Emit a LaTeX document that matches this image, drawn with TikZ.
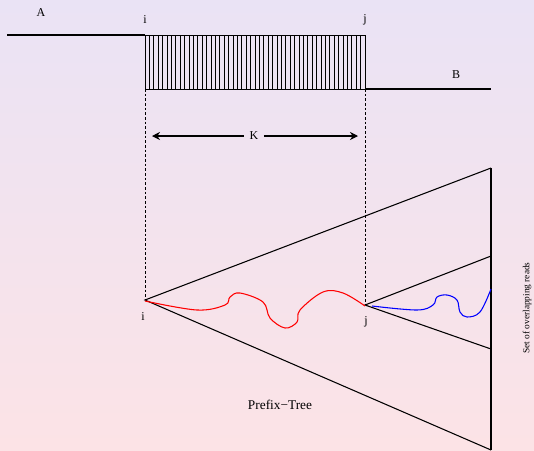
\documentclass[tikz,border=0pt]{standalone}
\usepackage{fontspec}
\setmainfont{Liberation Serif}
\usepackage{tikz}
\usepackage{xcolor}
\usetikzlibrary{arrows.meta,calc}

\definecolor{bgtop}{HTML}{EAE3F5}
\definecolor{bgbot}{HTML}{FCE3E6}

\tikzset{
    lbl/.style={inner sep=1pt, font=\fontsize{9}{10}\selectfont},
    guide/.style={densely dashed, dash pattern=on 2pt off 1.5pt, thin},
    edge/.style={thick},
}

\begin{document}
\begin{tikzpicture}[x=0.75pt, y=-0.75pt]
    % background
    \shade[top color=bgtop, bottom color=bgbot] (0,0) rectangle (534,450);
    \useasboundingbox (0,0) rectangle (534,450);

    % reads A and B with the overlap block
    \coordinate (a0) at (7,35);
    \coordinate (ri) at (145,35);
    \coordinate (rj) at (365,89);
    \coordinate (b1) at (491,89);
    \draw[edge] (a0) -- (ri);
    \draw[edge] (rj) -- (b1);
    \draw[semithick] (ri) rectangle (rj);
    \foreach \k in {1,...,49}
        \draw[semithick] ($(ri)+(4.4*\k,0)$) -- ($(ri)+(4.4*\k,54)$);
    \node[lbl, font=\small] (A) at (41,13) {A};
    \node[lbl, font=\small] (B) at (456,75) {B};
    \node[lbl] (ti) at (145,20) {i};
    \node[lbl] (tj) at (365,20) {j};

    % K span
    \coordinate (kl) at (152,136);
    \coordinate (kr) at (358,136);
    \node[lbl, font=\small, inner sep=4pt] (K) at (254,136) {K};
    \draw[thick, {Stealth[length=6pt,width=6pt]}-] (kl) -- (K.west);
    \draw[thick, -{Stealth[length=6pt,width=6pt]}] (K.east) -- (kr);

    % prefix tree
    \coordinate (pi) at (145,300);
    \coordinate (pj) at (365,305);
    \coordinate (t1) at (491,168);
    \coordinate (t2) at (491,450);
    \coordinate (s1) at (491,256);
    \coordinate (s2) at (491,349);
    \draw[guide] ($(ri)+(0,54)$) -- (pi);
    \draw[guide] (rj) -- (pj);
    \draw[edge] (t1) -- (pi) -- (t2);
    \draw[edge] (t1) -- (t2);
    \draw[edge] (s1) -- (pj) -- (s2);
    \node[lbl] (bi) at (143,317) {i};
    \node[lbl] (bj) at (366,322) {j};

    % paths through the trees
    \draw[red, thick] plot[smooth, tension=0.6] coordinates {(145,301) (197,310) (225,305) (230,297) (240,293) (263,302) (270,318) (285,328) (297,322) (300,310) (323,292) (343,293) (365,306)};
    \draw[blue, thick] plot[smooth, tension=0.6] coordinates {(372,306) (417,310) (433,305) (437,297) (447,295) (457,300) (460,312) (467,317) (480,312) (491,289)};

    \node[lbl] (pt) at (280,405) {\normalsize Prefix−Tree};
    \node[lbl, rotate=90, font=\fontsize{7}{8}\selectfont] (reads) at (527,308) {Set of overlapping reads};
\end{tikzpicture}
\end{document}
